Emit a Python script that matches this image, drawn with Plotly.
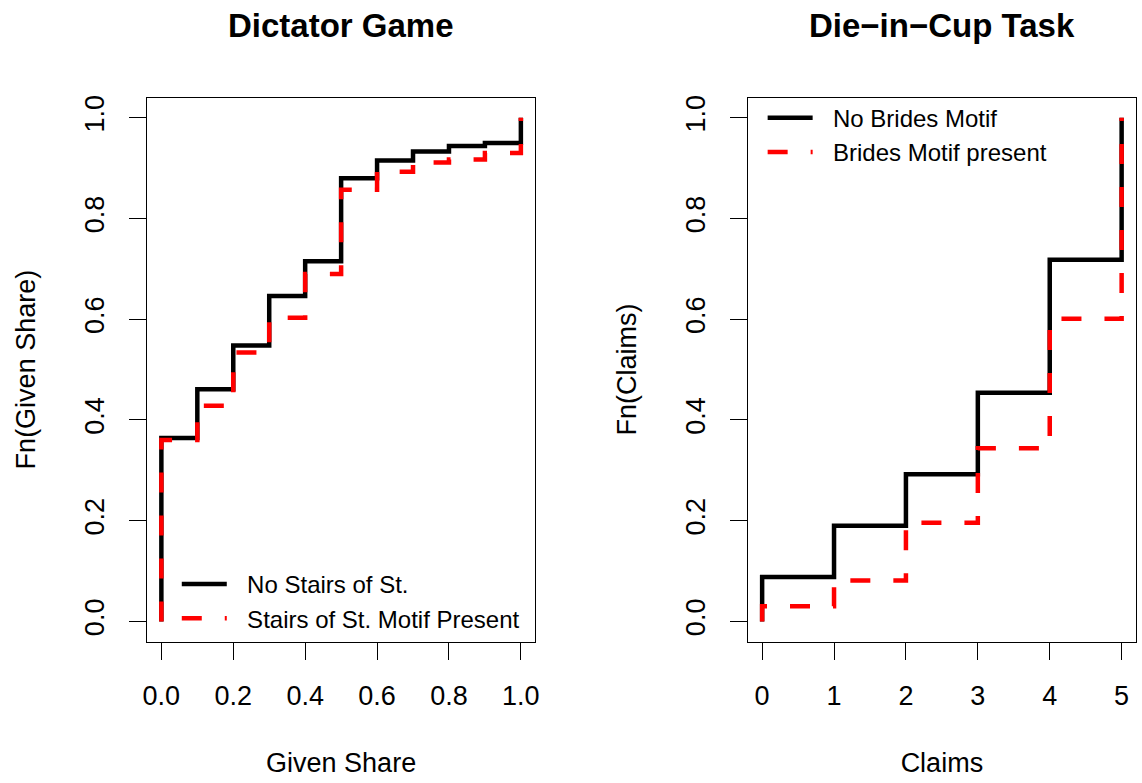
import plotly.graph_objects as go

# ---------------- data ----------------
share_levels = [0.0, 0.1, 0.2, 0.3, 0.4, 0.5, 0.6, 0.7, 0.8, 0.9, 1.0]
no_stairs_cdf = [0.364, 0.461, 0.548, 0.646, 0.715, 0.880, 0.915, 0.933, 0.944, 0.950, 1.0]
stairs_cdf = [0.360, 0.428, 0.534, 0.603, 0.690, 0.857, 0.893, 0.911, 0.917, 0.930, 1.0]

claim_levels = [0, 1, 2, 3, 4, 5]
no_brides_cdf = [0.088, 0.190, 0.292, 0.454, 0.718, 1.0]
brides_cdf = [0.030, 0.081, 0.196, 0.344, 0.601, 1.0]

left_ticks_x = [0.0, 0.2, 0.4, 0.6, 0.8, 1.0]
right_ticks_x = [0, 1, 2, 3, 4, 5]
y_ticks = [0.0, 0.2, 0.4, 0.6, 0.8, 1.0]

titles = ["Dictator Game", "Die\u2212in\u2212Cup Task"]
x_titles = ["Given Share", "Claims"]
y_titles = ["Fn(Given Share)", "Fn(Claims)"]
left_names = ["No Stairs of St.", "Stairs of St. Motif Present"]
right_names = ["No Brides Motif", "Brides Motif present"]

# ---------------- styling ----------------
FONT = "Liberation Sans, Arial, Helvetica, sans-serif"
W, H = 1142, 783
LW = 4.5
DASH = "20px,23px"
PAD = "\u00a0\u00a0\u200a"


def ecdf_path(knots, cdf):
    xs = [knots[0]] + list(knots)
    ys = [0.0] + list(cdf)
    return xs, ys


fig = go.Figure()

for (knots, cdf, name, color, dash, xa, ya, lg) in [
    (share_levels, no_stairs_cdf, left_names[0], "black", "solid", "x", "y", "legend"),
    (share_levels, stairs_cdf, left_names[1], "red", DASH, "x", "y", "legend"),
    (claim_levels, no_brides_cdf, right_names[0], "black", "solid", "x2", "y2", "legend2"),
    (claim_levels, brides_cdf, right_names[1], "red", DASH, "x2", "y2", "legend2"),
]:
    xs, ys = ecdf_path(knots, cdf)
    fig.add_trace(go.Scatter(
        x=xs, y=ys, mode="lines", name=PAD + name,
        line=dict(color=color, width=LW, dash=dash, shape="hv"),
        xaxis=xa, yaxis=ya, legend=lg, hoverinfo="skip",
    ))

px_l = lambda p: p / W
py_t = lambda p: 1 - p / H

dom_left = [px_l(144), px_l(535)]
dom_right = [px_l(749), px_l(1140)]
dom_y = [py_t(641), py_t(95)]

axis_common = dict(
    showline=True, mirror=True, linecolor="black", linewidth=1,
    ticks="outside", ticklen=17, tickwidth=1, tickcolor="black",
    showgrid=False, zeroline=False,
    tickfont=dict(family=FONT, size=27, color="black"),
    title_font=dict(family=FONT, size=27, color="black"),
)

fig.update_layout(
    width=W, height=H,
    margin=dict(l=0, r=0, t=0, b=0),
    paper_bgcolor="white", plot_bgcolor="white",
    font=dict(family=FONT, color="black"),
    xaxis=dict(domain=dom_left, range=[-0.04, 1.04], tickvals=left_ticks_x,
               ticktext=[f"{v:.1f}" for v in left_ticks_x], anchor="y",
               title=dict(text=x_titles[0], standoff=43), ticklabelstandoff=13, **axis_common),
    yaxis=dict(domain=dom_y, range=[-0.04, 1.04], tickvals=y_ticks,
               ticktext=[f"{v:.1f}" for v in y_ticks], tickangle=-90, anchor="x",
               title=dict(text=y_titles[0], standoff=36), ticklabelstandoff=14, **axis_common),
    xaxis2=dict(domain=dom_right, range=[-0.2, 5.2], tickvals=right_ticks_x,
                ticktext=[str(v) for v in right_ticks_x], anchor="y2",
                title=dict(text=x_titles[1], standoff=43), ticklabelstandoff=13, **axis_common),
    yaxis2=dict(domain=dom_y, range=[-0.04, 1.04], tickvals=y_ticks,
                ticktext=[f"{v:.1f}" for v in y_ticks], tickangle=-90, anchor="x2",
                title=dict(text=y_titles[1], standoff=36), ticklabelstandoff=14, **axis_common),
    legend=dict(x=px_l(174), y=py_t(561), xanchor="left", yanchor="top",
                bgcolor="rgba(0,0,0,0)", borderwidth=0, itemwidth=45,
                font=dict(family=FONT, size=24, color="black"), tracegroupgap=0),
    legend2=dict(x=px_l(764), y=py_t(93), xanchor="left", yanchor="top",
                 bgcolor="rgba(0,0,0,0)", borderwidth=0, itemwidth=45,
                 font=dict(family=FONT, size=24, color="black"), tracegroupgap=0),
    showlegend=True,
)

for i, (dom, txt) in enumerate(zip([dom_left, dom_right], titles)):
    fig.add_annotation(
        text=f"<b>{txt}</b>", xref="paper", yref="paper",
        x=(dom[0] + dom[1]) / 2, y=py_t(23), xanchor="center", yanchor="middle",
        showarrow=False, font=dict(family=FONT, size=33, color="black"),
    )

fig.write_html(
    "out.html",
    config={"displayModeBar": False, "staticPlot": True},
    post_script="document.body.style.margin='0';document.body.style.overflow='hidden';",
)
